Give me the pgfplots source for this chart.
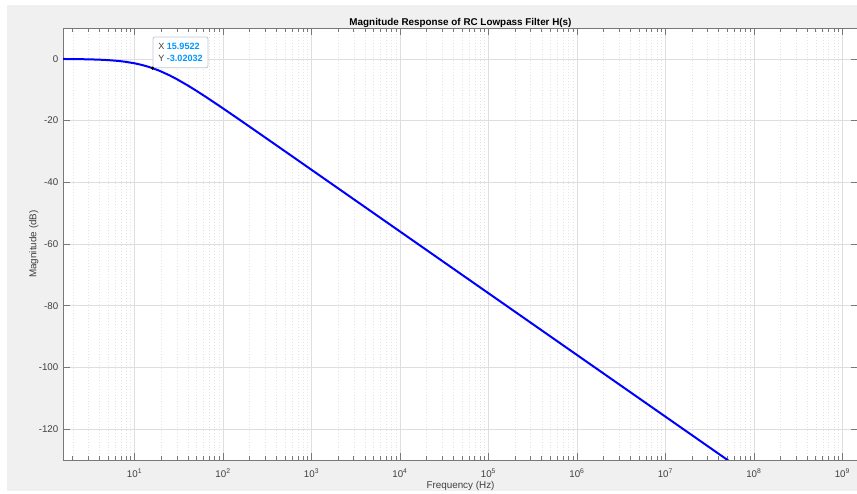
\documentclass[border=0pt]{standalone}
\usepackage{pgfplots}
\pgfplotsset{compat=1.18}
\usepackage{fontspec}
\setmainfont{Liberation Sans}
\definecolor{figgray}{RGB}{240,240,240}
\definecolor{gridgray}{RGB}{222,222,222}
\definecolor{minorgray}{RGB}{228,228,228}
\definecolor{axgray}{RGB}{120,120,120}
\definecolor{txtgray}{RGB}{64,64,64}
\definecolor{tipblue}{RGB}{0,150,255}
\definecolor{tipborder}{RGB}{190,200,210}
\begin{document}
\begin{tikzpicture}
\path[use as bounding box] (0,0) rectangle (642.75pt,369.75pt);
\fill[figgray] (5.25pt,1.5pt) rectangle (642.75pt,366pt);
\begin{axis}[
  at={(47.25pt,24.75pt)}, anchor=south west,
  scale only axis, width=596.25pt, height=324pt,
  xmode=log, log basis x=10,
  xmin=1.55, xmax=1.5e9, ymin=-130, ymax=10,
  axis background/.style={fill=white},
  axis line style={axgray, line width=0.5pt},
  tick style={axgray, line width=0.5pt},
  major tick length=5.5pt, minor tick length=3pt,
  xtick={1e1,1e2,1e3,1e4,1e5,1e6,1e7,1e8,1e9},
  minor xtick={2,3,4,5,6,7,8,9,20,30,40,50,60,70,80,90,200,300,400,500,600,700,800,900,2e3,3e3,4e3,5e3,6e3,7e3,8e3,9e3,2e4,3e4,4e4,5e4,6e4,7e4,8e4,9e4,2e5,3e5,4e5,5e5,6e5,7e5,8e5,9e5,2e6,3e6,4e6,5e6,6e6,7e6,8e6,9e6,2e7,3e7,4e7,5e7,6e7,7e7,8e7,9e7,2e8,3e8,4e8,5e8,6e8,7e8,8e8,9e8},
  xticklabels={10\textsuperscript{1},10\textsuperscript{2},10\textsuperscript{3},10\textsuperscript{4},10\textsuperscript{5},10\textsuperscript{6},10\textsuperscript{7},10\textsuperscript{8},10\textsuperscript{9}},
  ytick={-120,-100,-80,-60,-40,-20,0},
  /pgf/number format/assume math mode=true,
  tick label style={font=\fontsize{7.3}{8}\selectfont, text=txtgray},
  xticklabel style={yshift=-3pt},
  xmajorgrids, xminorgrids, ymajorgrids,
  major grid style={gridgray, line width=0.5pt},
  minor grid style={minorgray, dash pattern=on 0.6pt off 1.6pt, line width=0.4pt},
  title={Magnitude Response of RC Lowpass Filter H(s)},
  title style={font=\bfseries\fontsize{7.4}{8}\selectfont, yshift=-9pt},
  xlabel={Frequency (Hz)},
  ylabel={Magnitude (dB)},
  label style={font=\fontsize{7.4}{8}\selectfont, text=txtgray},
  xlabel style={yshift=4pt},
  ylabel style={yshift=-6.5pt},
]
\addplot[blue, line width=1.5pt] coordinates {
(1,-0.0171) (1.5,-0.0384) (2,-0.0680) (3,-0.1516) (4,-0.2661) (5,-0.4088)
(6,-0.5772) (7,-0.7681) (8,-0.9783) (10,-1.4451) (12,-1.9548) (14,-2.4891)
(15.9522,-3.0203) (18,-3.5777) (20,-4.1150) (25,-5.4000) (30,-6.5831)
(40,-8.6431) (50,-10.3622) (70,-13.0845) (100,-16.0723) (150,-19.534)
(200,-22.0116) (300,-25.518) (500,-29.947) (1000,-35.965)
(1e4,-55.964) (1e5,-75.964) (1e6,-95.964) (1e7,-115.964) (1e8,-135.964) (1e9,-155.964)
};
\addplot[only marks, mark=*, mark size=1pt, black] coordinates {(15.9522,-3.02032)};
\node[anchor=south west, fill=white, draw=tipborder, line width=0.6pt, rounded corners=1.5pt,
  inner xsep=4pt, inner ysep=5pt, align=left, font=\fontsize{6.8}{8.3}\selectfont, text=txtgray]
  at (axis cs:15.9522,-3.02032)
  {X \textcolor{tipblue}{\textbf{15.9522}}\\Y \textcolor{tipblue}{\textbf{-3.02032}}};
\end{axis}
\end{tikzpicture}
\end{document}
